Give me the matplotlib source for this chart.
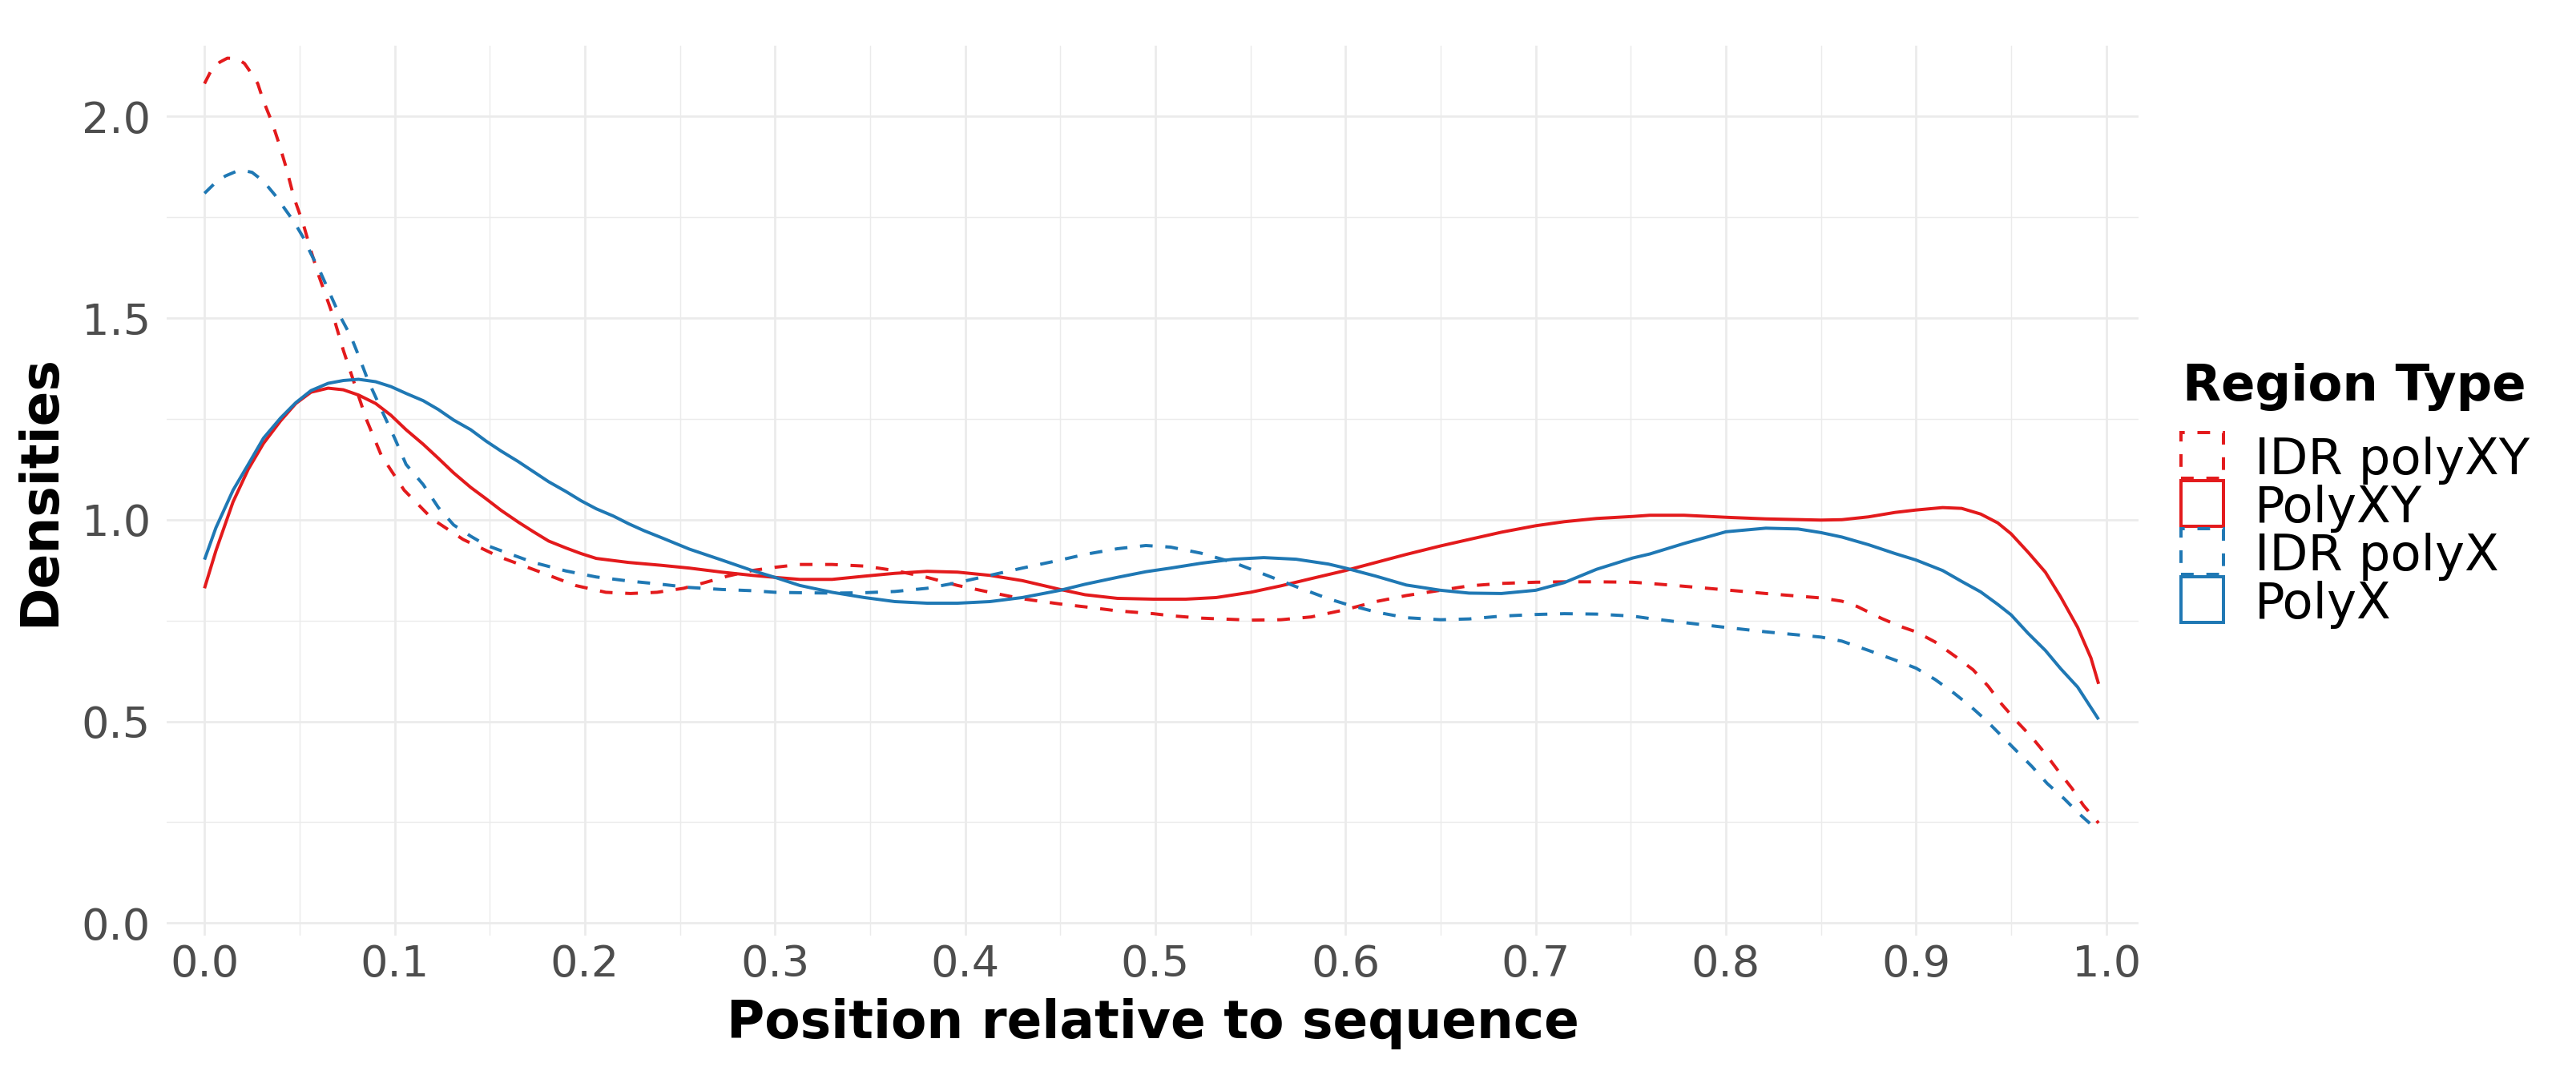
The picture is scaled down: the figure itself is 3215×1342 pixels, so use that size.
import matplotlib
matplotlib.use("Agg")
import matplotlib.pyplot as plt
from matplotlib.patches import Rectangle

plt.rcParams['font.family'] = ['DejaVu Sans']

# ---------------- data ----------------
series_names = ["IDR polyXY", "PolyXY", "IDR polyX", "PolyX"]

idr_polyxy_x = [0.000, 0.004, 0.008, 0.012, 0.017, 0.021, 0.025, 0.028, 0.031, 0.0355,
                0.039, 0.043, 0.047, 0.052, 0.056, 0.060, 0.064, 0.068, 0.073, 0.079,
                0.085, 0.093, 0.105, 0.120, 0.136, 0.155, 0.175, 0.195, 0.211, 0.224,
                0.238, 0.252, 0.263, 0.275, 0.288, 0.300, 0.313, 0.330, 0.347, 0.363,
                0.380, 0.396, 0.413, 0.430, 0.450, 0.463, 0.480, 0.499, 0.508, 0.524,
                0.550, 0.566, 0.582, 0.600, 0.616, 0.632, 0.650, 0.665, 0.682, 0.700,
                0.715, 0.732, 0.751, 0.760, 0.778, 0.800, 0.821, 0.850, 0.861, 0.869,
                0.882, 0.892, 0.900, 0.910, 0.921, 0.930, 0.938, 0.945, 0.953, 0.961,
                0.968, 0.975, 0.982, 0.988, 0.996]
idr_polyxy_y = [2.081, 2.118, 2.134, 2.144, 2.143, 2.131, 2.104, 2.081, 2.038, 1.985,
                1.935, 1.872, 1.799, 1.732, 1.666, 1.606, 1.553, 1.500, 1.420, 1.335,
                1.250, 1.159, 1.073, 1.001, 0.951, 0.908, 0.873, 0.837, 0.820, 0.817,
                0.820, 0.830, 0.844, 0.860, 0.874, 0.882, 0.889, 0.889, 0.885, 0.874,
                0.857, 0.837, 0.820, 0.804, 0.791, 0.784, 0.774, 0.767, 0.762, 0.756,
                0.751, 0.752, 0.759, 0.777, 0.797, 0.812, 0.825, 0.836, 0.842, 0.845,
                0.846, 0.846, 0.845, 0.842, 0.835, 0.826, 0.817, 0.806, 0.798, 0.785,
                0.755, 0.735, 0.722, 0.697, 0.660, 0.628, 0.587, 0.543, 0.500, 0.460,
                0.420, 0.376, 0.334, 0.292, 0.248]

polyxy_x = [0.000, 0.006, 0.015, 0.023, 0.031, 0.040, 0.048, 0.056, 0.065, 0.073,
            0.081, 0.090, 0.098, 0.106, 0.115, 0.123, 0.131, 0.140, 0.148, 0.156,
            0.165, 0.173, 0.181, 0.190, 0.198, 0.206, 0.223, 0.240, 0.255, 0.272,
            0.288, 0.300, 0.313, 0.330, 0.347, 0.363, 0.380, 0.396, 0.413, 0.430,
            0.450, 0.463, 0.480, 0.499, 0.516, 0.532, 0.550, 0.566, 0.582, 0.600,
            0.616, 0.632, 0.650, 0.665, 0.682, 0.700, 0.715, 0.732, 0.751, 0.760,
            0.778, 0.800, 0.821, 0.850, 0.861, 0.875, 0.889, 0.900, 0.914, 0.924,
            0.934, 0.943, 0.950, 0.959, 0.968, 0.976, 0.985, 0.992, 0.996]
polyxy_y = [0.830, 0.923, 1.044, 1.125, 1.189, 1.245, 1.288, 1.316, 1.326, 1.322,
            1.309, 1.288, 1.259, 1.223, 1.187, 1.152, 1.116, 1.080, 1.052, 1.023,
            0.994, 0.970, 0.947, 0.930, 0.916, 0.904, 0.894, 0.887, 0.880, 0.870,
            0.862, 0.857, 0.852, 0.852, 0.860, 0.867, 0.872, 0.870, 0.862, 0.849,
            0.827, 0.814, 0.805, 0.803, 0.803, 0.807, 0.820, 0.836, 0.854, 0.874,
            0.894, 0.914, 0.935, 0.951, 0.969, 0.985, 0.995, 1.003, 1.008, 1.011,
            1.011, 1.006, 1.002, 0.999, 1.000, 1.007, 1.018, 1.024, 1.030, 1.028,
            1.014, 0.992, 0.965, 0.919, 0.870, 0.809, 0.733, 0.657, 0.593]

idr_polyx_x = [0.000, 0.005, 0.011, 0.017, 0.021, 0.025, 0.031, 0.037, 0.042, 0.047,
               0.052, 0.056, 0.061, 0.066, 0.071, 0.077, 0.081, 0.086, 0.093, 0.100,
               0.106, 0.115, 0.123, 0.131, 0.140, 0.148, 0.156, 0.173, 0.190, 0.206,
               0.223, 0.240, 0.255, 0.272, 0.288, 0.300, 0.313, 0.330, 0.347, 0.363,
               0.380, 0.396, 0.413, 0.430, 0.450, 0.463, 0.480, 0.495, 0.508, 0.524,
               0.541, 0.557, 0.574, 0.591, 0.600, 0.616, 0.632, 0.650, 0.665, 0.682,
               0.700, 0.715, 0.732, 0.751, 0.760, 0.778, 0.800, 0.821, 0.850, 0.861,
               0.875, 0.889, 0.900, 0.910, 0.920, 0.929, 0.937, 0.945, 0.953, 0.961,
               0.969, 0.978, 0.986, 0.996]
idr_polyx_y = [1.809, 1.832, 1.852, 1.864, 1.865, 1.861, 1.839, 1.805, 1.772, 1.739,
               1.699, 1.659, 1.613, 1.560, 1.507, 1.454, 1.407, 1.345, 1.273, 1.202,
               1.137, 1.087, 1.030, 0.987, 0.959, 0.937, 0.923, 0.894, 0.873, 0.858,
               0.848, 0.840, 0.832, 0.827, 0.824, 0.820, 0.819, 0.818, 0.819, 0.822,
               0.830, 0.844, 0.862, 0.880, 0.900, 0.914, 0.928, 0.936, 0.932, 0.917,
               0.894, 0.865, 0.834, 0.804, 0.791, 0.771, 0.757, 0.752, 0.754, 0.761,
               0.765, 0.767, 0.766, 0.761, 0.755, 0.745, 0.733, 0.722, 0.709, 0.699,
               0.676, 0.652, 0.632, 0.604, 0.570, 0.536, 0.502, 0.464, 0.426, 0.388,
               0.346, 0.308, 0.270, 0.228]

polyx_x = [0.000, 0.006, 0.015, 0.023, 0.031, 0.040, 0.048, 0.056, 0.065, 0.073,
           0.081, 0.090, 0.098, 0.106, 0.115, 0.123, 0.131, 0.140, 0.148, 0.156,
           0.165, 0.173, 0.181, 0.190, 0.198, 0.206, 0.215, 0.223, 0.231, 0.240,
           0.255, 0.272, 0.288, 0.300, 0.313, 0.330, 0.347, 0.363, 0.380, 0.396,
           0.413, 0.430, 0.450, 0.463, 0.480, 0.495, 0.508, 0.524, 0.541, 0.557,
           0.574, 0.591, 0.600, 0.616, 0.632, 0.650, 0.665, 0.682, 0.700, 0.715,
           0.732, 0.751, 0.760, 0.778, 0.800, 0.821, 0.838, 0.850, 0.861, 0.875,
           0.889, 0.900, 0.914, 0.924, 0.934, 0.943, 0.950, 0.959, 0.968, 0.976,
           0.985, 0.996]
polyx_y = [0.901, 0.980, 1.073, 1.137, 1.202, 1.252, 1.290, 1.320, 1.338, 1.345,
           1.348, 1.342, 1.330, 1.313, 1.295, 1.273, 1.247, 1.223, 1.195, 1.170,
           1.144, 1.119, 1.094, 1.070, 1.047, 1.027, 1.009, 0.990, 0.973, 0.956,
           0.927, 0.900, 0.874, 0.857, 0.837, 0.820, 0.807, 0.797, 0.793, 0.793,
           0.797, 0.807, 0.825, 0.840, 0.857, 0.871, 0.880, 0.892, 0.902, 0.906,
           0.902, 0.890, 0.880, 0.860, 0.838, 0.825, 0.818, 0.817, 0.825, 0.844,
           0.877, 0.905, 0.915, 0.941, 0.970, 0.979, 0.977, 0.968, 0.957, 0.938,
           0.916, 0.900, 0.874, 0.847, 0.821, 0.790, 0.764, 0.718, 0.676, 0.631,
           0.585, 0.505]

x_ticks = [0.0, 0.1, 0.2, 0.3, 0.4, 0.5, 0.6, 0.7, 0.8, 0.9, 1.0]
x_tick_labels = ["0.0", "0.1", "0.2", "0.3", "0.4", "0.5", "0.6", "0.7", "0.8", "0.9", "1.0"]
y_ticks = [0.0, 0.5, 1.0, 1.5, 2.0]
y_tick_labels = ["0.0", "0.5", "1.0", "1.5", "2.0"]

# ---------------- styles ----------------
RED = "#E31A1C"
BLUE = "#1F78B4"
styles = {
    "IDR polyXY": dict(color=RED, dashed=True),
    "PolyXY": dict(color=RED, dashed=False),
    "IDR polyX": dict(color=BLUE, dashed=True),
    "PolyX": dict(color=BLUE, dashed=False),
}
data = {
    "IDR polyXY": (idr_polyxy_x, idr_polyxy_y),
    "PolyXY": (polyxy_x, polyxy_y),
    "IDR polyX": (idr_polyx_x, idr_polyx_y),
    "PolyX": (polyx_x, polyx_y),
}

W, H = 3215, 1342
DPI = 300
fig = plt.figure(figsize=(W / DPI, H / DPI), dpi=DPI)
fig.patch.set_facecolor("white")

def fx(px):
    return px / W

def fy(py):
    return 1 - py / H

left, right, top, bottom = 208, 2669, 57, 1168
ax = fig.add_axes([fx(left), fy(bottom), (right - left) / W, (bottom - top) / H])
ax.set_xlim(-0.0199, 1.017)
ax.set_ylim(-0.031, 2.175)

for s in ax.spines.values():
    s.set_visible(False)

ax.set_xticks(x_ticks)
ax.set_xticklabels(x_tick_labels)
ax.set_yticks(y_ticks)
ax.set_yticklabels(y_tick_labels)
ax.set_xticks([0.05 + 0.1 * i for i in range(10)], minor=True)
ax.set_yticks([0.25, 0.75, 1.25, 1.75], minor=True)
ax.tick_params(which="both", length=0)
ax.tick_params(axis="x", which="major", pad=2.5, labelsize=13, labelcolor="#4D4D4D")
ax.tick_params(axis="y", which="major", pad=4.8, labelsize=13, labelcolor="#4D4D4D")
ax.grid(which="major", color="#EBEBEB", linewidth=0.65)
ax.grid(which="minor", color="#EBEBEB", linewidth=0.35)
ax.set_axisbelow(True)

LW = 0.95
for name in series_names:
    xs, ys = data[name]
    st = styles[name]
    ls = (0, (4, 4)) if st["dashed"] else "-"
    ax.plot(xs, ys, color=st["color"], linewidth=LW, linestyle=ls,
            solid_capstyle="butt", dash_capstyle="butt", solid_joinstyle="round")

# axis titles
fig.text(fx((left + right) / 2), fy(1296), "Position relative to sequence",
         ha="center", va="baseline", fontsize=15.5, fontweight="bold", color="black")
fig.text(fx(82), fy((top + bottom) / 2), "Densities", rotation=90,
         ha="right", va="center", fontsize=15.5, fontweight="bold", color="black")

# legend
fig.text(fx(2724), fy(500), "Region Type", ha="left", va="baseline",
         fontsize=15, fontweight="bold", color="black")
key_x, key_w, key_h = 2722, 53, 57
for i, name in enumerate(series_names):
    st = styles[name]
    top_px = 540 + 60 * i
    rect = Rectangle((fx(key_x), fy(top_px + key_h)), key_w / W, key_h / H,
                     transform=fig.transFigure, facecolor="none",
                     edgecolor=st["color"], linewidth=LW,
                     linestyle=(0, (4, 4)) if st["dashed"] else "-")
    fig.add_artist(rect)
    fig.text(fx(2814), fy(top_px + 52), name, ha="left", va="baseline",
             fontsize=15, color="black")

fig.savefig("out.png", dpi=DPI, facecolor="white")
